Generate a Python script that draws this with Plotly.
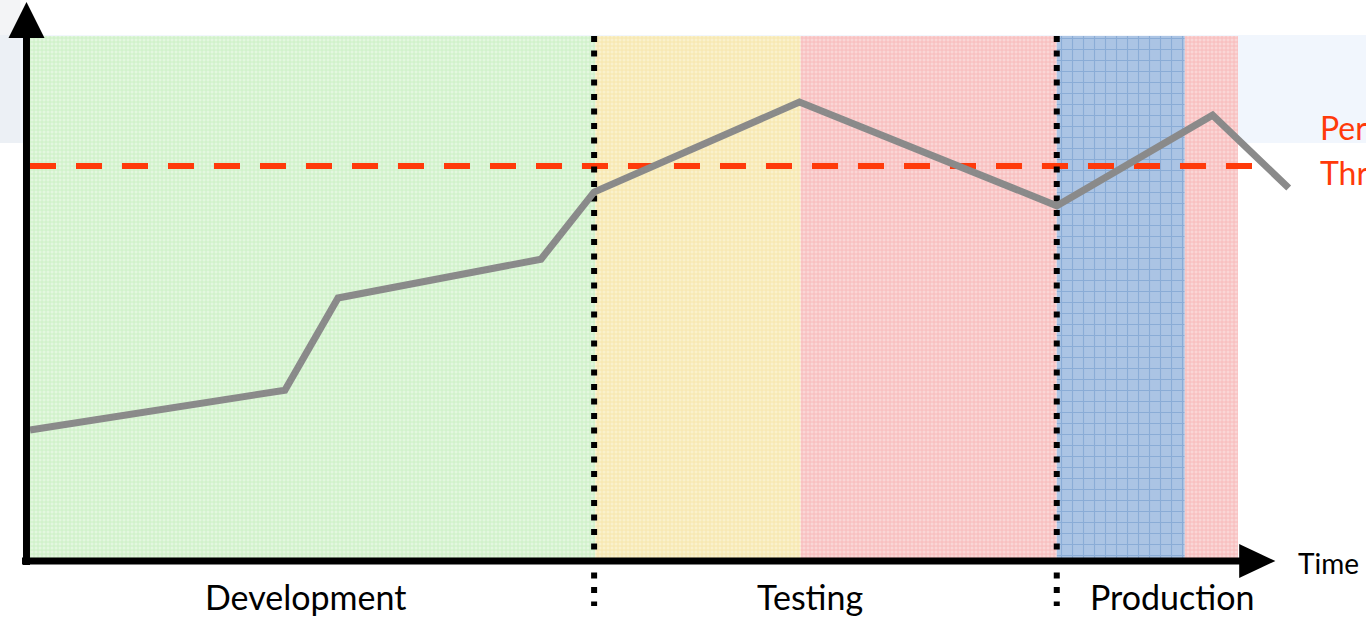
import plotly.graph_objects as go

# ---- data -------------------------------------------------------------
# Release phases along the time axis (0..100 time units)
phase_names = ["Development", "Testing", "Testing", "Production", "Production"]
phase_start = [0.0, 46.8, 63.8, 85.0, 95.6]
phase_end = [46.8, 63.8, 85.0, 95.6, 100.0]
phase_fill = ["#e3f7df", "#faf1cc", "#fad6d6", "#abc4e4", "#fad6d6"]
phase_grid = ["#b0e6a6", "#f2d884", "#f59a9a", "#6a93c8", "#f59a9a"]
phase_grid_size = [4, 4, 4, 11, 4]

# Measured performance over time
time_pts = [0.0, 21.1, 25.5, 42.3, 46.7, 63.7, 85.0, 97.9, 104.2]
perf_pts = [24.8, 32.4, 50.0, 57.4, 70.2, 87.4, 67.6, 84.9, 71.0]

# Performance threshold
threshold = 75.2
threshold_end = 102.7

# Phase boundaries marked with dotted lines
gate_times = [46.7, 85.0]

# Labels under the time axis
phase_labels = ["Development", "Testing", "Production"]
phase_label_t = [22.8, 64.6, 94.5]

# ---- axis ranges (time units / performance units) ---------------------
X_RANGE = [-2.483, 110.6]
Y_RANGE = [-11.64, 106.87]

fig = go.Figure()

# Background band behind the upper part of the canvas
fig.add_shape(type="rect", xref="paper", yref="y", x0=0, x1=1,
              y0=79.6, y1=100.2, fillcolor="#f1f6fd", line_width=0, layer="below")
fig.add_shape(type="rect", xref="x", yref="y", x0=X_RANGE[0], x1=-0.8,
              y0=79.6, y1=Y_RANGE[1], fillcolor="#e8e9ee", opacity=0.5,
              line_width=0, layer="below")

# Phase backgrounds as patterned bars
for name, s, e, fc, gc, gs in zip(phase_names, phase_start, phase_end,
                                  phase_fill, phase_grid, phase_grid_size):
    fig.add_trace(go.Bar(
        x=[(s + e) / 2], y=[100], base=[0], width=[e - s],
        marker=dict(color=fc, line_width=0,
                    pattern=dict(shape="+", fgcolor=gc, size=gs,
                                 solidity=0.2 if gs > 5 else 0.4)),
        name=name, showlegend=False, hoverinfo="name",
    ))

# Threshold line
fig.add_trace(go.Scatter(
    x=[0, threshold_end], y=[threshold, threshold], mode="lines",
    line=dict(color="#ff3a0a", width=6, dash="26px,20px"),
    showlegend=False, hoverinfo="skip",
))

# Dotted phase gates
for g in gate_times:
    fig.add_trace(go.Scatter(
        x=[g, g], y=[100, -8.8], mode="lines",
        line=dict(color="#000000", width=6, dash="6px,8.5px"),
        showlegend=False, hoverinfo="skip",
    ))

# Performance curve
fig.add_trace(go.Scatter(
    x=time_pts, y=perf_pts, mode="lines",
    line=dict(color="#8a8a8a", width=7),
    showlegend=False, name="Performance",
))

# Axes drawn as thick arrows
fig.add_shape(type="line", x0=-0.29, x1=-0.29, y0=-0.95, y1=99.8,
              line=dict(color="black", width=7))
fig.add_shape(type="path", path="M -1.78 99.6 L 1.20 99.6 L -0.29 106.5 Z",
              fillcolor="black", line_width=0)
fig.add_shape(type="line", x0=-0.66, x1=100.2, y0=-0.19, y1=-0.19,
              line=dict(color="black", width=7))
fig.add_shape(type="path", path="M 100.1 3.05 L 100.1 -3.43 L 103.1 -0.19 Z",
              fillcolor="black", line_width=0)

font_family = "Lato, 'Noto Sans', sans-serif"

for lbl, t in zip(phase_labels, phase_label_t):
    fig.add_annotation(x=t, y=-6.9, text=lbl, showarrow=False,
                       font=dict(family=font_family, size=34, color="black"),
                       xanchor="center", yanchor="middle")

fig.add_annotation(x=104.8, y=-0.5, text="Time", showarrow=False,
                   font=dict(family=font_family, size=28, color="black"),
                   xanchor="left", yanchor="middle")

fig.add_annotation(x=106.6, y=82.6, text="Performance", showarrow=False,
                   font=dict(family=font_family, size=32, color="#ff3a0a"),
                   xanchor="left", yanchor="middle")
fig.add_annotation(x=106.6, y=74.0, text="Threshold", showarrow=False,
                   font=dict(family=font_family, size=32, color="#ff3a0a"),
                   xanchor="left", yanchor="middle")

fig.update_layout(
    width=1366, height=621,
    margin=dict(l=0, r=0, t=0, b=0),
    paper_bgcolor="white", plot_bgcolor="rgba(0,0,0,0)",
    barmode="overlay",
    xaxis=dict(range=X_RANGE, visible=False, fixedrange=True),
    yaxis=dict(range=Y_RANGE, visible=False, fixedrange=True),
)

fig.write_html("out.html")
